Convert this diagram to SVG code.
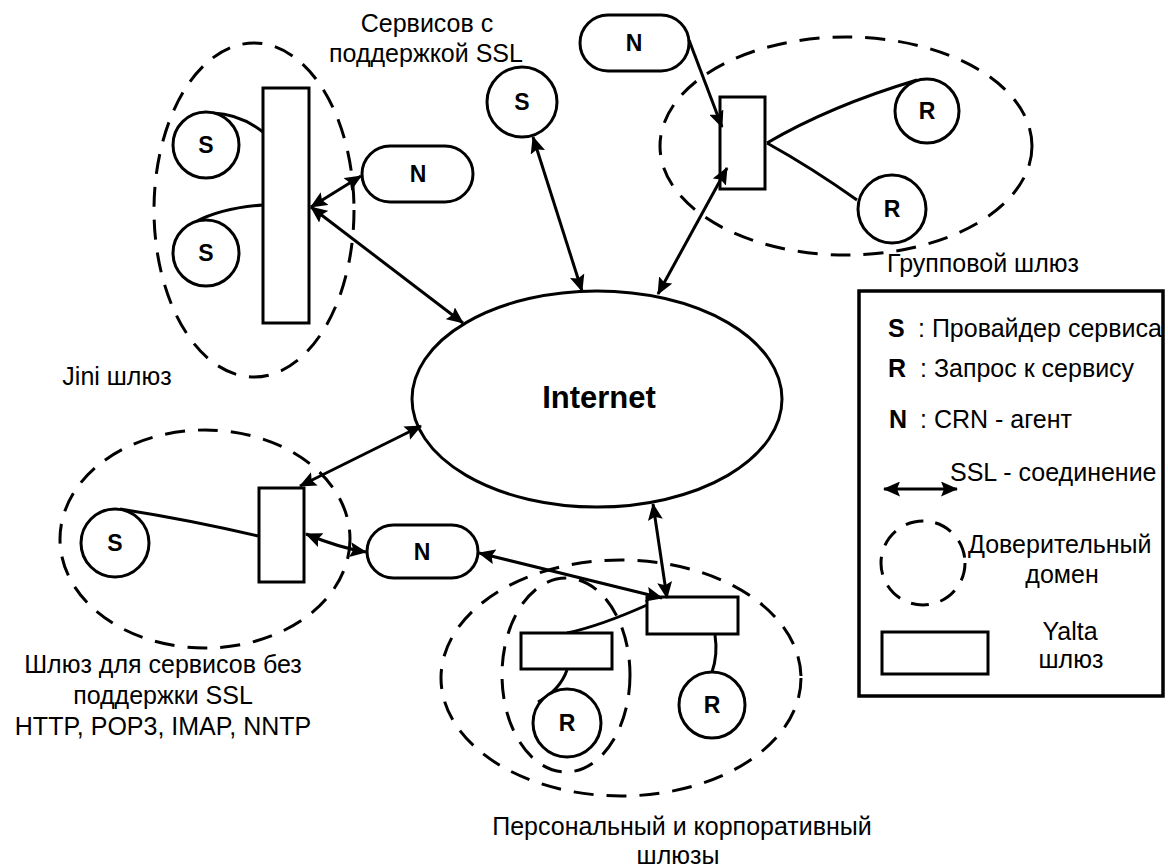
<svg xmlns="http://www.w3.org/2000/svg" width="1168" height="867" viewBox="0 0 1168 867">
<style>
.bg{fill:#fff}
.dom{fill:none;stroke:#000;stroke-width:3;stroke-dasharray:20 13}
.sh{fill:#fff;stroke:#000;stroke-width:3}
.ln{fill:none;stroke:#000;stroke-width:3}
.ar{fill:none;stroke:#000;stroke-width:3;marker-start:url(#ah);marker-end:url(#ah)}
.ar1{fill:none;stroke:#000;stroke-width:3;marker-end:url(#ah)}
.lb{font-family:"Liberation Sans",Arial,sans-serif;font-weight:bold;font-size:23px;text-anchor:middle;fill:#000}
.tx{font-family:"Liberation Sans",Arial,sans-serif;font-size:25px;fill:#000}
.big{font-size:31px}
.c{text-anchor:middle}
.b{font-weight:bold}
</style>
<defs>
<marker id="ah" viewBox="0 0 17 15" refX="16" refY="7.5" markerWidth="17" markerHeight="15" markerUnits="userSpaceOnUse" orient="auto-start-reverse">
<path d="M0,0 L17,7.5 L0,15 L3,7.5 Z" fill="#000"/>
</marker>
</defs>
<rect class="bg" x="0" y="0" width="1168" height="867"/>

<g id="domains">
<ellipse class="dom" cx="254" cy="210" rx="100" ry="167"/>
<ellipse class="dom" cx="846" cy="146" rx="186" ry="109"/>
<ellipse class="dom" cx="205" cy="539" rx="145" ry="109"/>
<ellipse class="dom" cx="621" cy="678" rx="180" ry="118"/>
<ellipse class="dom" cx="566" cy="675" rx="64" ry="97"/>
</g>

<g id="links">
<path class="ln" d="M213,113 Q240,114 263,132"/>
<path class="ln" d="M195,222 Q222,208 263,205"/>
<path class="ln" d="M767,143 Q830,106 917,80"/>
<path class="ln" d="M767,143 Q812,168 857,200"/>
<path class="ln" d="M120,509 Q190,520 258,536"/>
<path class="ln" d="M647,605 Q600,626 567,633"/>
<path class="ln" d="M567,670 Q560,690 538,702"/>
<path class="ln" d="M715,635 Q718,655 712,672"/>
</g>

<g id="internet">
<ellipse class="sh" cx="597" cy="399" rx="185" ry="108"/>
<text class="tx b c big" x="599" y="408">Internet</text>
</g>

<g id="jini-gw"><rect class="sh" x="263" y="88" width="46" height="235"/></g>
<g id="jini-s1"><circle class="sh" cx="206" cy="145" r="33"/><text class="lb" x="206" y="153">S</text></g>
<g id="jini-s2"><circle class="sh" cx="206" cy="253" r="33"/><text class="lb" x="206" y="261">S</text></g>
<g id="jini-n"><rect class="sh" x="362" y="146" width="111" height="56" rx="28"/><text class="lb" x="418" y="182">N</text></g>

<g id="ssl-s"><circle class="sh" cx="522" cy="102" r="35"/><text class="lb" x="522" y="110">S</text></g>

<g id="group-n"><rect class="sh" x="580" y="15" width="109" height="56" rx="28"/><text class="lb" x="634" y="51">N</text></g>
<g id="group-gw"><rect class="sh" x="720" y="97" width="45" height="92"/></g>
<g id="group-r1"><circle class="sh" cx="927" cy="111" r="32"/><text class="lb" x="927" y="119">R</text></g>
<g id="group-r2"><circle class="sh" cx="892" cy="209" r="34"/><text class="lb" x="892" y="217">R</text></g>

<g id="nossl-s"><circle class="sh" cx="115" cy="543" r="34"/><text class="lb" x="115" y="551">S</text></g>
<g id="nossl-gw"><rect class="sh" x="259" y="488" width="45" height="94"/></g>
<g id="nossl-n"><rect class="sh" x="367" y="525" width="111" height="53" rx="26.5"/><text class="lb" x="422" y="560">N</text></g>

<g id="corp-gw"><rect class="sh" x="647" y="597" width="91" height="37"/></g>
<g id="pers-gw"><rect class="sh" x="521" y="633" width="91" height="36"/></g>
<g id="pers-r"><circle class="sh" cx="567" cy="723" r="34"/><text class="lb" x="567" y="731">R</text></g>
<g id="corp-r"><circle class="sh" cx="712" cy="705" r="33"/><text class="lb" x="712" y="713">R</text></g>

<g id="connectors">
<path class="ar" d="M311,207 L361,176"/>
<path class="ar" d="M311,207 L463,323"/>
<path class="ar" d="M533,137 L582,291"/>
<path class="ar1" d="M689,40 L722,127"/>
<path class="ar" d="M727,168 L658,294"/>
<path class="ar" d="M300,486 L421,426"/>
<path class="ar" d="M306,534 Q340,548 366,552"/>
<path class="ar" d="M479,553 L662,598"/>
<path class="ar" d="M653,504 L667,598"/>
</g>

<g id="labels">
<text class="tx c" x="427" y="32">Сервисов с</text>
<text class="tx c" x="426" y="62">поддержкой SSL</text>
<text class="tx c" x="117" y="385">Jini шлюз</text>
<text class="tx c" x="983" y="272">Групповой шлюз</text>
<text class="tx c" x="163" y="673">Шлюз для сервисов без</text>
<text class="tx c" x="163" y="704">поддержки SSL</text>
<text class="tx c" x="163" y="735">HTTP, POP3, IMAP, NNTP</text>
<text class="tx c" x="682" y="835">Персональный и корпоративный</text>
<text class="tx c" x="678" y="864">шлюзы</text>
</g>

<g id="legend">
<text class="tx b" x="888" y="337">S</text>
<text class="tx" x="918" y="337">: Провайдер сервиса</text>
<text class="tx b" x="888" y="377">R</text>
<text class="tx" x="920" y="377">: Запрос к сервису</text>
<text class="tx b" x="889" y="428">N</text>
<text class="tx" x="920" y="428">: CRN - агент</text>
<path class="ar" d="M884,489 L957,489"/>
<text class="tx" x="950" y="481">SSL - соединение</text>
<circle cx="923" cy="563" r="42" fill="none" stroke="#000" stroke-width="3" stroke-dasharray="18 12"/>
<text class="tx" x="968" y="553">Доверительный</text>
<text class="tx c" x="1062" y="583">домен</text>
<rect class="sh" x="882" y="632" width="106" height="42"/>
<text class="tx c" x="1070" y="640">Yalta</text>
<text class="tx c" x="1071" y="668">шлюз</text>
<rect x="859" y="291" width="304" height="405" fill="none" stroke="#000" stroke-width="3.5"/>
</g>
</svg>
